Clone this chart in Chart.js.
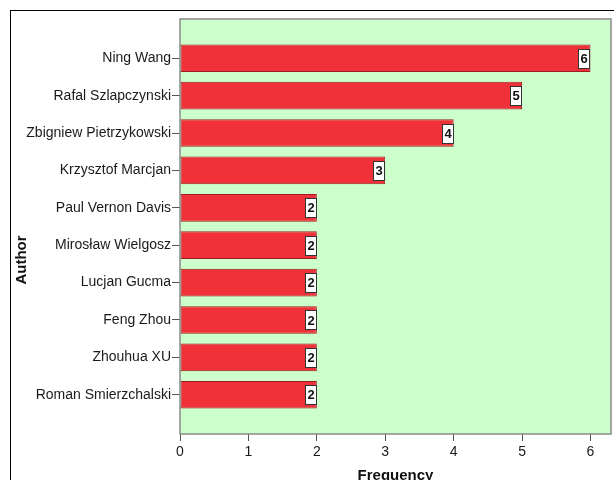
<!DOCTYPE html>
<html>
<head>
<meta charset="utf-8">
<script src="https://cdn.jsdelivr.net/npm/chart.js@4/dist/chart.umd.min.js"></script>
<style>
  html, body { margin: 0; padding: 0; background: #ffffff; }
  #wrap { width: 614px; height: 480px; }
</style>
</head>
<body>
<div id="wrap"><canvas id="chart" width="614" height="480"></canvas></div>
<script>
// Publication counts per author
const authors = [
  'Ning Wang',
  'Rafal Szlapczynski',
  'Zbigniew Pietrzykowski',
  'Krzysztof Marcjan',
  'Paul Vernon Davis',
  'Mirosław Wielgosz',
  'Lucjan Gucma',
  'Feng Zhou',
  'Zhouhua XU',
  'Roman Smierzchalski'
];
const frequency = [6, 5, 4, 3, 2, 2, 2, 2, 2, 2];
const xTicks = [0, 1, 2, 3, 4, 5, 6];

const axisTitleX = 'Frequency';
const axisTitleY = 'Author';

const FONT = "'Liberation Sans', Arial, sans-serif";

// Frame, plot background, value boxes and axis titles
const decorations = {
  id: 'decorations',
  beforeDraw(chart) {
    const ctx = chart.ctx;
    ctx.save();
    ctx.fillStyle = '#ffffff';
    ctx.fillRect(0, 0, chart.width, chart.height);
    ctx.strokeStyle = '#000000';
    ctx.lineWidth = 1;
    ctx.strokeRect(10.5, 10.5, 800, 800);
    const a = chart.chartArea;
    ctx.fillStyle = '#CCFFCC';
    ctx.fillRect(a.left, a.top, a.right - a.left, a.bottom - a.top);
    ctx.restore();
  },
  afterDatasetsDraw(chart) {
    const ctx = chart.ctx;
    const a = chart.chartArea;
    ctx.save();
    // plot border
    ctx.strokeStyle = '#8a8a8a';
    ctx.lineWidth = 1.5;
    ctx.strokeRect(a.left, a.top, a.right - a.left, a.bottom - a.top);

    // value boxes at the bar ends
    const meta = chart.getDatasetMeta(0);
    ctx.font = 'bold 13px ' + FONT;
    ctx.textAlign = 'center';
    ctx.textBaseline = 'middle';
    meta.data.forEach((bar, i) => {
      const v = chart.data.datasets[0].data[i].x;
      const w = 11, h = 19;
      const x = Math.round(bar.x - w - 1) + 0.5;
      const y = Math.round(bar.y - h / 2) + 0.5;
      ctx.fillStyle = '#ffffff';
      ctx.fillRect(x, y, w, h);
      ctx.strokeStyle = '#333333';
      ctx.lineWidth = 1;
      ctx.strokeRect(x, y, w, h);
      ctx.fillStyle = '#111111';
      ctx.fillText(String(v), x + w / 2, bar.y + 1);
    });

    // axis titles
    ctx.font = 'bold 15px ' + FONT;
    ctx.fillStyle = '#111111';
    ctx.textAlign = 'center';
    ctx.textBaseline = 'alphabetic';
    ctx.fillText(axisTitleX, (a.left + a.right) / 2, 480);
    ctx.translate(26, 260);
    ctx.rotate(-Math.PI / 2);
    ctx.fillText(axisTitleY, 0, 0);
    ctx.restore();
  }
};

new Chart(document.getElementById('chart'), {
  type: 'bar',
  data: {
    datasets: [{
      data: authors.map((name, i) => ({ x: frequency[i], y: i })),
      backgroundColor: '#F0313A',
      borderColor: '#9C1F24',
      borderWidth: 1,
      borderSkipped: false,
      categoryPercentage: 1,
      barPercentage: 0.74
    }]
  },
  options: {
    indexAxis: 'y',
    responsive: false,
    animation: false,
    devicePixelRatio: 1,
    layout: { padding: { top: 19, right: 3, left: 0, bottom: 0 } },
    plugins: {
      legend: { display: false },
      tooltip: { enabled: false },
      title: { display: false }
    },
    scales: {
      x: {
        type: 'linear',
        min: 0,
        max: 6.3,
        offset: false,
        afterBuildTicks(scale) {
          scale.ticks = xTicks.map(v => ({ value: v }));
        },
        afterFit(scale) { scale.height = 46; },
        border: { display: false },
        grid: {
          offset: false,
          drawOnChartArea: false,
          drawTicks: true,
          tickLength: 7,
          tickColor: '#555555',
          tickWidth: 1
        },
        ticks: {
          padding: 3,
          color: '#1a1a1a',
          font: { family: FONT, size: 14 },
          maxRotation: 0
        }
      },
      y: {
        type: 'linear',
        reverse: true,
        offset: false,
        min: -1.05,
        max: authors.length - 1 + 1.05,
        afterBuildTicks(scale) {
          scale.ticks = authors.map((n, i) => ({ value: i }));
        },
        afterFit(scale) { scale.width = 180; },
        border: { display: false },
        grid: {
          offset: false,
          drawOnChartArea: false,
          drawTicks: true,
          tickLength: 8,
          tickColor: '#555555',
          tickWidth: 1
        },
        ticks: {
          padding: 1,
          color: '#1a1a1a',
          font: { family: FONT, size: 14 },
          callback: (v) => authors[v] !== undefined ? authors[v] : ''
        }
      }
    }
  },
  plugins: [decorations]
});
</script>
</body>
</html>
